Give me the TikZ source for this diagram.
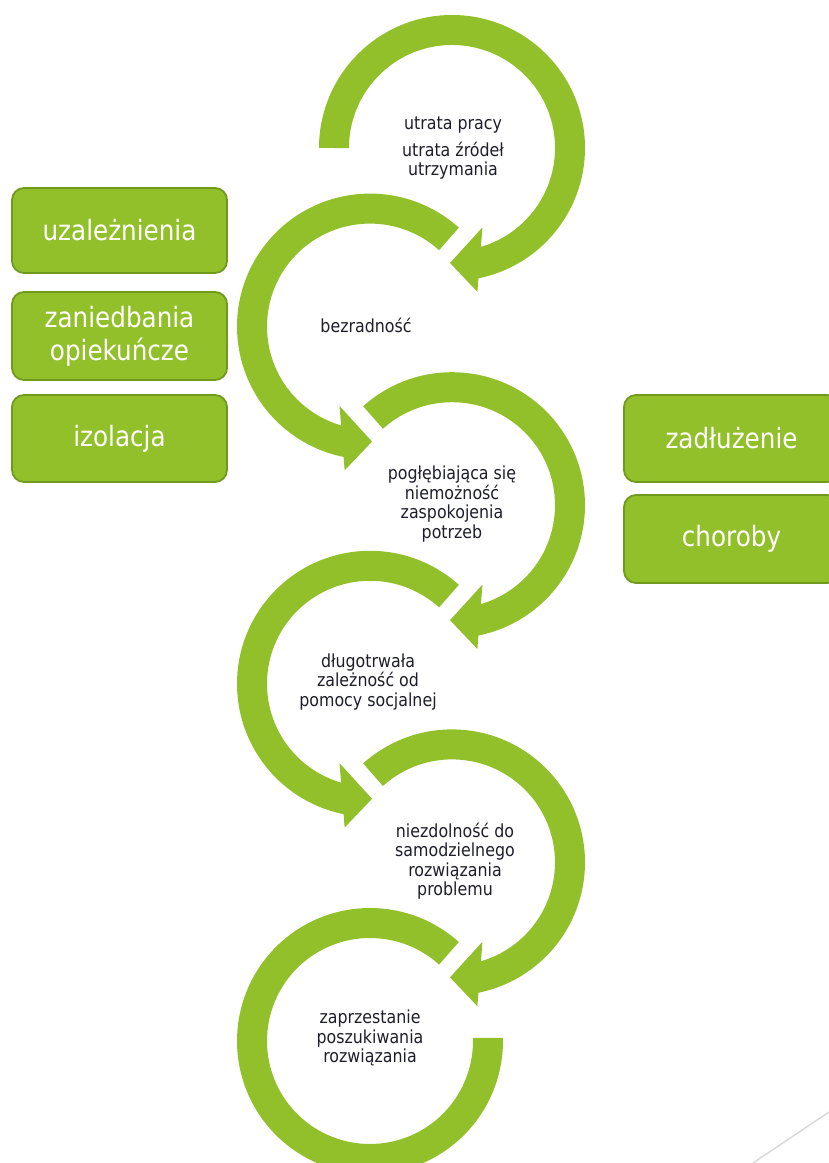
\documentclass[tikz,border=0pt]{standalone}
\usepackage{fontspec}
\setmainfont{DejaVu Sans}[FakeStretch=0.88]
\definecolor{arrowgreen}{HTML}{92C02A}
\definecolor{boxgreen}{HTML}{92C02A}
\definecolor{boxedge}{HTML}{6F9A1E}
\definecolor{txt}{HTML}{1E1E2A}
\definecolor{linegray}{HTML}{DADADA}
\newcommand\cwhead[1]{\fill[head] ([shift={(-69:85)}]#1) -- ([shift={(-80:146)}]#1) -- ([shift={(-91:115)}]#1) -- cycle;}
\newcommand\ccwhead[1]{\fill[head] ([shift={(249:85)}]#1) -- ([shift={(260:146)}]#1) -- ([shift={(271:115)}]#1) -- cycle;}
\begin{document}
\begin{tikzpicture}[x=1pt,y=1pt,
  band/.style={line width=30pt, draw=arrowgreen},
  head/.style={fill=arrowgreen},
  factor/.style={draw=boxedge, line width=1.8pt, fill=boxgreen, rounded corners=12pt,
    minimum width=215pt, inner sep=0pt, text=white,
    font=\fontsize{28}{33}\selectfont, align=center},
  circletext/.style={text=txt, font=\fontsize{18}{19.5}\selectfont, align=center, inner sep=0pt}]
\useasboundingbox (0,0) rectangle (829,1163);
% circle centres
\coordinate (c1) at (452,1015);
\coordinate (c2) at (370,836.4);
\coordinate (c3) at (452,657.8);
\coordinate (c4) at (370,479.2);
\coordinate (c5) at (452,300.6);
\coordinate (c6) at (370,122);
% arc 1
\draw[band] ([shift={(180:118)}]c1) arc[start angle=180, end angle=-79, radius=118];
\cwhead{c1}
% arc 2
\draw[band] ([shift={(48:118)}]c2) arc[start angle=48, end angle=259, radius=118];
\ccwhead{c2}
% arc 3
\draw[band] ([shift={(132:118)}]c3) arc[start angle=132, end angle=-79, radius=118];
\cwhead{c3}
% arc 4
\draw[band] ([shift={(48:118)}]c4) arc[start angle=48, end angle=259, radius=118];
\ccwhead{c4}
% arc 5
\draw[band] ([shift={(132:118)}]c5) arc[start angle=132, end angle=-79, radius=118];
\cwhead{c5}
% arc 6
\draw[band] ([shift={(48:118)}]c6) arc[start angle=48, end angle=361.5, radius=118];
% circle texts
\node[circletext] (t1a) at (453,1038) {utrata pracy};
\node[circletext] (t1b) at (453,1002.5) {utrata źródeł\\utrzymania};
\node[circletext] (t2) at (366,838) {bezradność};
\node[circletext] (t3) at (452,659) {pogłębiająca się\\niemożność\\zaspokojenia\\potrzeb};
\node[circletext] (t4) at (368,481) {długotrwała\\zależność od\\pomocy socjalnej};
\node[circletext] (t5) at (455,302) {niezdolność do\\samodzielnego\\rozwiązania\\problemu};
\node[circletext] (t6) at (370,125) {zaprzestanie\\poszukiwania\\rozwiązania};
% factor boxes
\node[factor, minimum height=85pt] (f1) at (119.5,932.5) {uzależnienia};
\node[factor, minimum height=88pt] (f2) at (119.5,827) {zaniedbania\\opiekuńcze};
\node[factor, minimum height=87pt] (f3) at (119.5,724.5) {izolacja};
\node[factor, minimum height=87pt] (f4) at (731.5,724.5) {zadłużenie};
\node[factor, minimum height=88pt] (f5) at (731.5,624) {choroby};
% corner line
\coordinate (g1) at (753,0);
\coordinate (g2) at (829,51);
\draw[linegray, line width=1.5pt] (g1) -- (g2);
\end{tikzpicture}
\end{document}
